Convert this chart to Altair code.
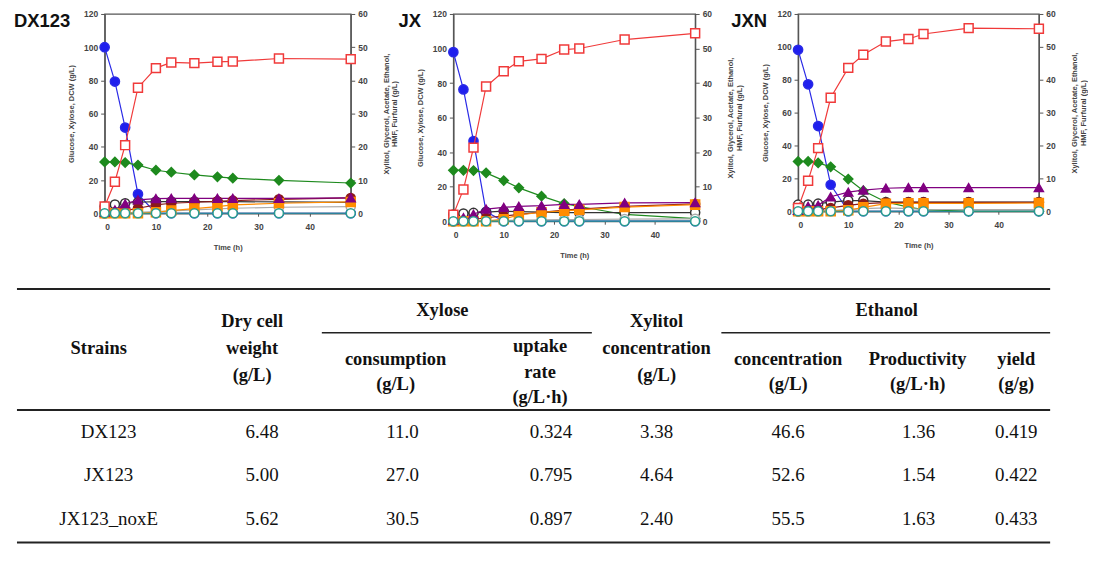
import altair as alt
import pandas as pd

# ---------------- data ----------------
TIME = [0, 2, 4, 6.5, 10, 13, 17.5, 22, 25, 34, 48]

# DX123
DX_GLUCOSE = [100, 79.3, 51.6, 11.5, 0, 0, 0, 0, 0, 0, 0]
DX_XYLOSE = [30.9, 30.9, 30.5, 29.0, 25.9, 24.7, 23.1, 21.9, 21.1, 19.8, 18.2]
DX_DCW = [4.0, 5.2, 6.0, 6.6, 7.0, 7.0, 7.0, 7.0, 7.0, 6.8, 6.5]
DX_HMF = [0, 0, 0.1, 0.3, 0.5, 0.7, 1.0, 1.3, 1.5, 1.8, 2.0]
DX_ACETATE = [0, 0.3, 0.8, 1.5, 2.5, 3.0, 3.3, 3.6, 3.8, 4.2, 4.6]
DX_XYLITOL = [0, 0, 0, 0, 0.3, 0.8, 1.4, 2.0, 2.5, 3.0, 3.4]
DX_GLYCEROL = [0.3, 1.0, 2.8, 4.0, 4.4, 4.5, 4.5, 4.5, 4.5, 4.5, 4.6]
DX_ETHANOL = [2.0, 9.5, 20.5, 37.8, 43.7, 45.4, 45.2, 45.6, 45.7, 46.6, 46.4]
DX_FURFURAL = [0, 0, 0, 0, 0, 0, 0, 0, 0, 0, 0]

# JX
JX_GLUCOSE = [97.9, 76.3, 46.4, 5.4, 0, 0, 0, 0, 0, 0, 0]
JX_XYLOSE = [29.5, 29.5, 29.3, 28.0, 23.5, 19.3, 14.5, 10.2, 8.5, 3.9, 1.5]
JX_DCW = [3.9, 4.4, 4.8, 5.3, 5.8, 5.5, 5.3, 5.0, 5.0, 5.0, 5.0]
JX_HMF = [0, 0, 0, 0.1, 0.2, 0.3, 0.4, 0.5, 0.5, 0.6, 0.7]
JX_ACETATE = [0, 0.2, 0.5, 1.0, 1.5, 2.0, 2.6, 3.2, 3.5, 4.3, 5.0]
JX_XYLITOL = [0, 0, 0, 0, 0.6, 1.8, 2.6, 3.0, 3.3, 4.1, 4.8]
JX_GLYCEROL = [0.3, 1.0, 2.0, 3.5, 4.0, 4.3, 4.5, 4.9, 4.9, 5.3, 5.4]
JX_ETHANOL = [1.9, 9.2, 21.3, 39.0, 43.4, 46.3, 47.0, 49.7, 50.0, 52.6, 54.4]
JX_FURFURAL = [0, 0, 0, 0, 0, 0, 0, 0, 0, 0, 0]

# JXN
JXN_GLUCOSE = [98.2, 77.2, 51.8, 16.1, 0, 0, 0, 0, 0, 0, 0]
JXN_XYLOSE = [30.3, 30.3, 29.4, 27.0, 19.6, 12.5, 5.6, 2.5, 1.0, 0, 0]
JXN_DCW = [4.0, 4.0, 4.6, 5.6, 6.5, 6.5, 5.6, 5.6, 5.6, 5.6, 5.6]
JXN_HMF = [0, 0, 0, 0.2, 0.5, 0.8, 1.0, 0.8, 0.6, 0.5, 0.5]
JXN_ACETATE = [0, 0.2, 0.5, 1.0, 1.8, 2.3, 2.6, 2.7, 2.7, 2.7, 2.7]
JXN_XYLITOL = [0, 0, 0, 0, 0.3, 1.2, 2.3, 2.4, 2.4, 2.4, 2.5]
JXN_GLYCEROL = [0.3, 1.5, 1.8, 4.4, 5.8, 6.4, 7.0, 7.2, 7.2, 7.2, 7.2]
JXN_ETHANOL = [1.0, 9.3, 19.2, 34.5, 43.6, 47.6, 51.6, 52.4, 53.9, 55.7, 55.5]
JXN_FURFURAL = [0, 0, 0, 0, 0, 0, 0, 0, 0, 0, 0]

PANEL_NAMES = ["DX123", "JX", "JXN"]

# table
STRAINS = ["DX123", "JX123", "JX123_noxE"]
DRY_CELL_WEIGHT = [6.48, 5.00, 5.62]
XYLOSE_CONSUMPTION = [11.0, 27.0, 30.5]
XYLOSE_UPTAKE_RATE = [0.324, 0.795, 0.897]
XYLITOL_CONCENTRATION = [3.38, 4.64, 2.40]
ETHANOL_CONCENTRATION = [46.6, 52.6, 55.5]
ETHANOL_PRODUCTIVITY = [1.36, 1.54, 1.63]
ETHANOL_YIELD = [0.419, 0.422, 0.433]
VALUE_DECIMALS = [2, 1, 3, 2, 1, 2, 3]

HEADER_LINES = [["Strains"], ["Dry cell", "weight", "(g/L)"], ["Xylose"],
                ["consumption", "(g/L)"], ["uptake", "rate", "(g/L\u00b7h)"],
                ["Xylitol", "concentration", "(g/L)"], ["Ethanol"],
                ["concentration", "(g/L)"], ["Productivity", "(g/L\u00b7h)"],
                ["yield", "(g/g)"]]

# ---------------- styles / layout ----------------
SERIES = ["Glucose", "Xylose", "DCW", "HMF", "Acetate", "Xylitol", "Glycerol", "Ethanol", "Furfural"]
LEFT_SERIES = ["Glucose", "Xylose", "DCW"]
SERIES_STROKE = ["#2a2ae6", "#1e8a1e", "#333333", "#aaaaaa", "#8b1a1a", "#ff8c00", "#800080", "#f03a3a", "#2a9e8e"]
SERIES_FILL = ["#1f1fee", "#1e8a1e", "#ffffff", "#ffffff", "#8b1a1a", "#ff8c00", "#800080", "#ffffff", "#ffffff"]
SERIES_SHAPE = ["circle", "diamond", "circle", "circle", "circle", "square", "triangle-up", "square", "circle"]
SERIES_SIZE = [85, 80, 70, 0, 25, 70, 65, 85, 65]

PANEL_W = [247, 242.7, 241.7]
PANEL_H = [200, 208, 198]
TITLE_DX = [-91, -55, -67]
TITLE_DY = [7, 7, 7]

AX_FONT = "Liberation Sans"
AX_COLOR = "#444444"
SERIF = "Liberation Serif"

# table layout in page pixels; the table view starts under the first panel's plot
TABLE_X0 = 104
TABLE_Y0 = 283
TABLE_W = 952
TABLE_H = 263
ROW_GAP = 268
HEADER_X = [98, 252, 443, 396, 541, 658, 889, 790, 920, 1019]
HEADER_Y = [[350], [323, 350, 377], [312], [361, 386], [348, 374, 399],
            [323, 350, 377], [312], [361, 386], [361, 386], [361, 386]]
VALUE_X = [108, 262, 403, 552, 658, 790, 921, 1019]
ROW_Y = [435, 478, 522]
RULE_X1 = [16, 322, 723, 16, 16]
RULE_X2 = [1053, 593, 1053, 1053, 1053]
RULE_Y = [291, 335, 335, 412.5, 545.5]
RULE_W = [2, 1.4, 1.4, 1.8, 2]


def scale_of(rng):
    return alt.Scale(domain=SERIES, range=rng)


def panel(i, data):
    rows = []
    for s in SERIES:
        for t, v in zip(TIME, data[s]):
            rows.append({"time": t, "value": v, "series": s})
    df = pd.DataFrame(rows)
    df_left = df[df["series"].isin(LEFT_SERIES)]
    df_right = df[~df["series"].isin(LEFT_SERIES)]

    x_enc = alt.X("time:Q", scale=alt.Scale(domain=[0, 48], nice=False),
                  axis=alt.Axis(values=[0, 10, 20, 30, 40], title="Time (h)", grid=False,
                                labelFont=AX_FONT, labelFontSize=8.5, labelFontWeight="bold",
                                labelColor=AX_COLOR, titleFont=AX_FONT, titleFontSize=7.5,
                                titleFontWeight="bold", titleColor=AX_COLOR, titlePadding=13,
                                tickColor="#555555", tickSize=3, domainColor="#555555",
                                domainWidth=1.3, labelPadding=6))
    y_left = alt.Y("value:Q", scale=alt.Scale(domain=[0, 120], nice=False),
                   axis=alt.Axis(values=[0, 20, 40, 60, 80, 100, 120], orient="left",
                                 title="Glucose, Xylose, DCW (g/L)", grid=False,
                                 labelFont=AX_FONT, labelFontSize=8.5, labelFontWeight="bold",
                                 labelColor=AX_COLOR, titleFont=AX_FONT, titleFontSize=7.5,
                                 titleFontWeight="bold", titleColor=AX_COLOR, titlePadding=8,
                                 tickColor="#555555", tickSize=4, domainColor="#555555",
                                 domainWidth=1.3, labelPadding=3))
    y_right = alt.Y("value:Q", scale=alt.Scale(domain=[0, 60], nice=False),
                    axis=alt.Axis(values=[0, 10, 20, 30, 40, 50, 60], orient="right",
                                  title=["Xylitol, Glycerol, Acetate, Ethanol,", "HMF, Furfural (g/L)"],
                                  titleAngle=270, titleBaseline="bottom", grid=False,
                                  labelFont=AX_FONT, labelFontSize=8.5, labelFontWeight="bold",
                                  labelColor=AX_COLOR, titleFont=AX_FONT, titleFontSize=7.5,
                                  titleFontWeight="bold", titleColor=AX_COLOR, titlePadding=14,
                                  titleLineHeight=9,
                                  tickColor="#555555", tickSize=4, domainColor="#555555",
                                  domainWidth=1.3, labelPadding=3))

    stroke = alt.Stroke("series:N", scale=scale_of(SERIES_STROKE), legend=None)
    fill = alt.Fill("series:N", scale=scale_of(SERIES_FILL), legend=None)
    shape = alt.Shape("series:N", scale=scale_of(SERIES_SHAPE), legend=None)
    size = alt.Size("series:N", scale=scale_of(SERIES_SIZE), legend=None)

    def group(d, y_enc):
        base = alt.Chart(d)
        lines = base.mark_line(strokeWidth=1.2).encode(x=x_enc, y=y_enc, stroke=stroke)
        pts = base.mark_point(filled=True, opacity=1, strokeWidth=1.5).encode(
            x=x_enc, y=y_enc, stroke=stroke, fill=fill, shape=shape, size=size)
        return lines, pts

    l_lines, l_pts = group(df_left, y_left)
    r_lines, r_pts = group(df_right, y_right)

    title = alt.Chart(pd.DataFrame({"label": [PANEL_NAMES[i]]})).mark_text(
        font=AX_FONT, fontSize=18.5, fontWeight="bold", align="left", baseline="middle",
        color="#111111").encode(text="label:N", x=alt.value(TITLE_DX[i]), y=alt.value(TITLE_DY[i]))

    left = alt.layer(l_lines, l_pts, title)
    right = alt.layer(r_lines, r_pts)
    return alt.layer(left, right).resolve_scale(y="independent").properties(
        width=PANEL_W[i], height=PANEL_H[i],
        view=alt.ViewBackground(stroke="#555555", strokeWidth=1.3))


DX = dict(zip(SERIES, [DX_GLUCOSE, DX_XYLOSE, DX_DCW, DX_HMF, DX_ACETATE, DX_XYLITOL,
                       DX_GLYCEROL, DX_ETHANOL, DX_FURFURAL]))
JX = dict(zip(SERIES, [JX_GLUCOSE, JX_XYLOSE, JX_DCW, JX_HMF, JX_ACETATE, JX_XYLITOL,
                       JX_GLYCEROL, JX_ETHANOL, JX_FURFURAL]))
JXN = dict(zip(SERIES, [JXN_GLUCOSE, JXN_XYLOSE, JXN_DCW, JXN_HMF, JXN_ACETATE, JXN_XYLITOL,
                        JXN_GLYCEROL, JXN_ETHANOL, JXN_FURFURAL]))

top = alt.hconcat(panel(0, DX), panel(1, JX), panel(2, JXN), spacing=103, bounds="flush")

# ---------------- table ----------------
hdr_rows = []
for lines, hx, hys in zip(HEADER_LINES, HEADER_X, HEADER_Y):
    for ln, hy in zip(lines, hys):
        hdr_rows.append({"label": ln, "px": hx - TABLE_X0, "py": hy - TABLE_Y0})
hdr_df = pd.DataFrame(hdr_rows)

columns = [DRY_CELL_WEIGHT, XYLOSE_CONSUMPTION, XYLOSE_UPTAKE_RATE, XYLITOL_CONCENTRATION,
           ETHANOL_CONCENTRATION, ETHANOL_PRODUCTIVITY, ETHANOL_YIELD]
val_rows = []
for r, strain in enumerate(STRAINS):
    val_rows.append({"label": strain, "px": VALUE_X[0] - TABLE_X0, "py": ROW_Y[r] - TABLE_Y0})
    for c, (col, dec) in enumerate(zip(columns, VALUE_DECIMALS)):
        val_rows.append({"label": f"{col[r]:.{dec}f}", "px": VALUE_X[c + 1] - TABLE_X0,
                         "py": ROW_Y[r] - TABLE_Y0})
val_df = pd.DataFrame(val_rows)

rule_df = pd.DataFrame({"x1": [v - TABLE_X0 for v in RULE_X1], "x2": [v - TABLE_X0 for v in RULE_X2],
                        "y": [v - TABLE_Y0 for v in RULE_Y], "w": RULE_W})

tx = alt.Scale(domain=[0, TABLE_W], range=[0, TABLE_W])
ty = alt.Scale(domain=[0, TABLE_H], range=[0, TABLE_H])

rules = alt.Chart(rule_df).mark_rule(color="#222222").encode(
    x=alt.X("x1:Q", scale=tx, axis=None), x2="x2:Q",
    y=alt.Y("y:Q", scale=ty, axis=None), strokeWidth=alt.StrokeWidth("w:Q", scale=None))
hdr = alt.Chart(hdr_df).mark_text(font=SERIF, fontSize=18.5, fontWeight="bold",
                                   align="center", baseline="middle", color="#111111").encode(
    x=alt.X("px:Q", scale=tx, axis=None), y=alt.Y("py:Q", scale=ty, axis=None), text="label:N")
vals = alt.Chart(val_df).mark_text(font=SERIF, fontSize=19, align="center",
                                    baseline="middle", color="#111111").encode(
    x=alt.X("px:Q", scale=tx, axis=None), y=alt.Y("py:Q", scale=ty, axis=None), text="label:N")

table = alt.layer(rules, hdr, vals).properties(
    width=TABLE_W, height=TABLE_H, view=alt.ViewBackground(stroke="transparent"))

# the nested hconcat row counts as zero height in a flush layout, so the
# vertical gap carries the panel height as well
chart = alt.vconcat(top, table, spacing=ROW_GAP, bounds="flush").properties(
    padding={"left": 5, "top": 0, "right": 0, "bottom": 0}, background="white")

chart.save("out.html", embed_options={"renderer": "svg", "actions": False})
